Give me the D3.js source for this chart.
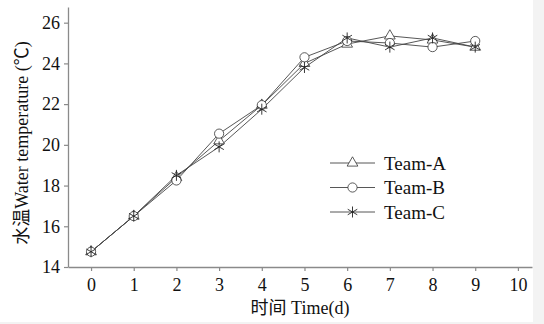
<!DOCTYPE html>
<html>
<head>
<meta charset="utf-8">
<script src="https://cdn.jsdelivr.net/npm/d3@7"></script>
<style>
  body { margin: 0; background: #fff; }
</style>
</head>
<body>
<svg width="544" height="324"></svg>
<script>
let days = [0, 1, 2, 3, 4, 5, 6, 7, 8, 9];
let teamA = [14.75, 16.5, 18.4, 20.2, 21.95, 24.0, 24.95, 25.35, 25.15, 24.8];
let teamB = [14.75, 16.5, 18.25, 20.55, 21.95, 24.3, 25.1, 25.0, 24.8, 25.1];
let teamC = [14.75, 16.5, 18.5, 19.9, 21.75, 23.8, 25.25, 24.8, 25.25, 24.8];
let seriesNames = ['Team-A', 'Team-B', 'Team-C'];
let xTicks = [0, 1, 2, 3, 4, 5, 6, 7, 8, 9, 10];
let yTicks = [14, 16, 18, 20, 22, 24, 26];

let serif = "'Liberation Serif', 'Noto Sans CJK SC', serif";

let svg = d3.select('svg');
let plotLeft = 68, plotRight = 532, plotTop = 7, plotBottom = 267;

// light page edge like the scanned figure
svg.append('rect').attr('x', 533).attr('y', 0).attr('width', 11).attr('height', 324).attr('fill', '#f3f3f3');
svg.append('rect').attr('x', 0).attr('y', 322).attr('width', 544).attr('height', 2).attr('fill', '#f3f3f3');

let x = d3.scaleLinear().domain([-0.54, 10.33]).range([plotLeft, plotRight]);
let y = d3.scaleLinear().domain([14, 26.77]).range([plotBottom, plotTop]);

let xAxis = svg.append('g')
    .attr('transform', `translate(0, ${plotBottom})`)
    .call(d3.axisBottom(x).tickValues(xTicks).tickSize(4).tickPadding(7).tickSizeOuter(0));
let yAxis = svg.append('g')
    .attr('transform', `translate(${plotLeft}, 0)`)
    .call(d3.axisLeft(y).tickValues(yTicks).tickSize(4).tickPadding(4).tickSizeOuter(0));

[xAxis, yAxis].forEach((a) => {
  a.attr('font-family', serif).attr('font-size', 18);
  a.select('.domain').attr('stroke', '#8a8a8a').attr('stroke-width', 1.3);
  a.selectAll('.tick line').attr('stroke', '#8a8a8a').attr('stroke-width', 1.2);
  a.selectAll('.tick text').attr('fill', '#111');
});

// axis titles
svg.append('text')
    .attr('x', 300).attr('y', 314)
    .attr('text-anchor', 'middle')
    .attr('font-size', 18)
    .text('时间 Time(d)');

svg.append('text')
    .attr('transform', 'translate(28, 143) rotate(-90)')
    .attr('text-anchor', 'middle')
    .attr('font-size', 18)
    .text('水温Water temperature (℃)');

let series = [teamA, teamB, teamC];
let line = d3.line().x((d, i) => x(days[i])).y((d) => y(d));

let tri = d3.symbol().type(d3.symbolTriangle).size(50);

function drawMarker(sel, k, cx, cy) {
  if (k === 0) {
    sel.append('path').attr('d', tri()).attr('transform', `translate(${cx}, ${cy})`)
        .attr('fill', '#fff').attr('stroke', '#333').attr('stroke-width', 0.8);
  } else if (k === 1) {
    sel.append('circle').attr('cx', cx).attr('cy', cy).attr('r', 4.6)
        .attr('fill', '#fff').attr('stroke', '#333').attr('stroke-width', 0.8);
  } else {
    // six-arm asterisk
    let r = 5.5;
    [0, 60, 120].forEach((a) => {
      let rad = (a + 90) * Math.PI / 180;
      sel.append('line')
          .attr('x1', cx - r * Math.cos(rad)).attr('y1', cy - r * Math.sin(rad))
          .attr('x2', cx + r * Math.cos(rad)).attr('y2', cy + r * Math.sin(rad))
          .attr('stroke', '#222').attr('stroke-width', 0.9);
    });
  }
}

series.forEach((s) => {
  svg.append('path')
      .datum(s)
      .attr('d', line)
      .attr('fill', 'none')
      .attr('stroke', '#444')
      .attr('stroke-width', 0.9);
});
series.forEach((s, k) => {
  let g = svg.append('g');
  s.forEach((v, i) => drawMarker(g, k, x(days[i]), y(v)));
});

// legend
let legend = svg.append('g');
seriesNames.forEach((name, k) => {
  let ly = 163 + k * 24.5;
  legend.append('line')
      .attr('x1', 330).attr('x2', 375).attr('y1', ly).attr('y2', ly)
      .attr('stroke', '#444').attr('stroke-width', 0.9);
  drawMarker(legend, k, 352.5, ly);
  legend.append('text')
      .attr('x', 384).attr('y', ly + 6.5)
      .attr('font-size', 19)
      .text(name);
});

// every label in the serif face
svg.selectAll('text').style('font-family', serif).style('fill', '#111');
</script>
</body>
</html>
